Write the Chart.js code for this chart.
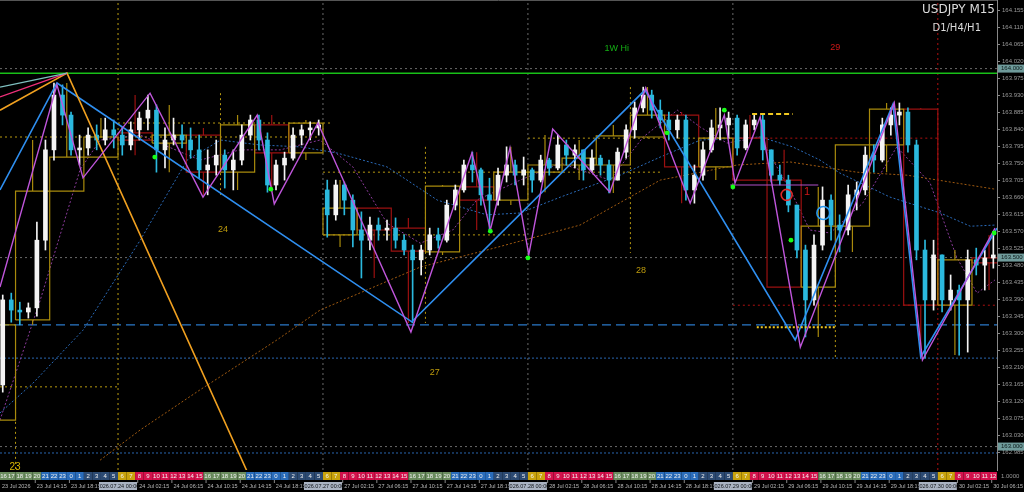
<!DOCTYPE html>
<html>
<head>
<meta charset="UTF-8">
<script src="https://cdn.jsdelivr.net/npm/chart.js"></script>
<style>
  html, body { margin: 0; padding: 0; background: #000; overflow: hidden; }
  canvas { display: block; }
</style>
</head>
<body>
<canvas id="chart" width="1024" height="492"></canvas>
<script>
// hourly candles; hour 0 = 23 Jul 00:00, weekend hours skipped (27 Jul 00:00 = 48)
const firstHour = 10;
const open = [163.163,163.388,163.361,163.356,163.367,163.546,163.785,163.930,163.877,163.785,
  163.790,163.824,163.811,163.838,163.824,163.798,163.838,163.869,163.890,163.785,
  163.811,163.824,163.811,163.785,163.732,163.745,163.771,163.732,163.758,163.824,
  163.864,163.811,163.692,163.745,163.763,163.824,163.838,163.843,163.679,163.613,
  163.692,163.652,163.573,163.546,163.586,163.573,163.578,163.546,163.520,163.494,
  163.520,163.560,163.546,163.639,163.679,163.745,163.732,163.666,163.652,163.718,
  163.745,163.718,163.732,163.705,163.758,163.737,163.798,163.771,163.785,163.732,
  163.763,163.745,163.705,163.779,163.838,163.896,163.930,163.890,163.864,163.838,
  163.864,163.679,163.718,163.785,163.843,163.851,163.869,163.790,163.851,163.864,
  163.785,163.718,163.705,163.639,163.520,163.388,163.533,163.652,163.586,163.573,
  163.666,163.679,163.771,163.758,163.851,163.877,163.885,163.798,163.520,163.388,
  163.507,163.388,163.414,163.388,163.494,163.480,163.499];
const high = [163.401,163.406,163.382,163.380,163.594,163.811,163.962,163.957,163.885,163.824,
  163.843,163.851,163.869,163.864,163.845,163.859,163.885,163.930,163.904,163.843,
  163.869,163.851,163.843,163.824,163.785,163.811,163.785,163.785,163.851,163.877,
  163.877,163.830,163.758,163.779,163.843,163.851,163.859,163.864,163.705,163.705,
  163.700,163.666,163.621,163.607,163.605,163.599,163.605,163.560,163.533,163.533,
  163.578,163.578,163.652,163.692,163.758,163.779,163.737,163.710,163.737,163.793,
  163.758,163.766,163.737,163.771,163.763,163.824,163.811,163.798,163.785,163.785,
  163.771,163.758,163.790,163.851,163.912,163.951,163.943,163.917,163.885,163.877,
  163.877,163.745,163.806,163.864,163.896,163.885,163.877,163.864,163.877,163.877,
  163.785,163.745,163.718,163.639,163.533,163.560,163.687,163.666,163.613,163.692,
  163.700,163.793,163.798,163.869,163.896,163.909,163.896,163.811,163.546,163.546,
  163.507,163.454,163.427,163.520,163.525,163.520,163.560];
const low = [163.144,163.329,163.322,163.340,163.345,163.520,163.758,163.851,163.771,163.745,
  163.771,163.785,163.798,163.790,163.771,163.785,163.811,163.838,163.726,163.737,
  163.798,163.790,163.763,163.710,163.666,163.718,163.684,163.679,163.745,163.811,
  163.785,163.673,163.679,163.705,163.758,163.798,163.811,163.824,163.554,163.599,
  163.613,163.528,163.446,163.520,163.546,163.546,163.525,163.507,163.327,163.454,
  163.507,163.525,163.541,163.626,163.673,163.700,163.639,163.573,163.639,163.700,
  163.692,163.692,163.673,163.700,163.718,163.732,163.745,163.737,163.705,163.726,
  163.718,163.671,163.705,163.763,163.816,163.885,163.869,163.843,163.811,163.816,
  163.652,163.644,163.705,163.779,163.811,163.816,163.771,163.785,163.838,163.758,
  163.700,163.692,163.621,163.499,163.290,163.374,163.520,163.546,163.515,163.560,
  163.626,163.666,163.726,163.753,163.824,163.851,163.779,163.494,163.234,163.361,
  163.356,163.361,163.242,163.250,163.454,163.414,163.472];
const close = [163.388,163.361,163.356,163.367,163.546,163.785,163.930,163.877,163.785,163.790,
  163.824,163.811,163.838,163.824,163.798,163.838,163.869,163.890,163.785,163.811,
  163.824,163.811,163.785,163.732,163.745,163.771,163.732,163.758,163.824,163.864,
  163.811,163.692,163.745,163.763,163.824,163.838,163.843,163.851,163.613,163.692,
  163.652,163.573,163.546,163.586,163.573,163.578,163.546,163.520,163.494,163.520,
  163.560,163.546,163.639,163.679,163.745,163.732,163.666,163.652,163.718,163.745,
  163.718,163.732,163.705,163.758,163.737,163.798,163.771,163.785,163.732,163.763,
  163.745,163.705,163.779,163.838,163.896,163.930,163.890,163.864,163.838,163.864,
  163.679,163.718,163.785,163.843,163.851,163.869,163.790,163.851,163.864,163.785,
  163.718,163.705,163.639,163.520,163.388,163.533,163.652,163.586,163.573,163.666,
  163.679,163.771,163.758,163.851,163.877,163.885,163.798,163.520,163.388,163.507,
  163.388,163.414,163.388,163.494,163.480,163.499,163.507];

// H4 bodies (start hour, open, close)
const h4Start = [8,12,16,20,24,28,32,36,40,44,48,52,56,60,64,68,72,76,80,84,88,92,96,100,104,108,112,116,120,124];
const h4Open = [163.070,163.335,163.676,163.766,163.830,163.803,163.824,163.726,163.851,163.777,
  163.560,163.631,163.578,163.515,163.687,163.652,163.726,163.745,163.745,163.819,
  163.877,163.740,163.816,163.705,163.422,163.583,163.798,163.893,163.374,163.499];
const h4Close = [163.322,163.676,163.766,163.819,163.811,163.824,163.726,163.851,163.777,163.856,
  163.631,163.573,163.517,163.689,163.652,163.726,163.745,163.763,163.822,163.877,
  163.740,163.816,163.705,163.422,163.583,163.798,163.893,163.374,163.494,163.486];

// zigzags and moving averages: [hour, price]
const blueZigzag = [[10.18,163.679],[16.85,163.962],[58.4,163.330],[85.7,163.943],[103.3,163.282],[114.75,163.906],[118,163.237],[126.93,163.578]];
const magentaZigzag = [[10.18,163.422],[16.85,163.957],[19.9,163.711],[27.75,163.935],[33.95,163.660],[40.3,163.877],[42.3,163.642],[47.4,163.856],
  [58.3,163.303],[65.45,163.777],[67.6,163.573],[69.9,163.790],[72.1,163.507],[74.9,163.840],[81.6,163.673],[85.8,163.949],[91,163.644],
  [95,163.877],[96.25,163.697],[99.2,163.872],[103.9,163.263],[114.9,163.909],[118.2,163.229],[126.7,163.578]];
const maBlue = [[10.18,163.089],[14.05,163.168],[19.9,163.308],[26.6,163.546],[32.1,163.758],[36,163.811],[40.6,163.798],[45.3,163.793],
  [49.6,163.777],[55.5,163.740],[61.4,163.652],[67.2,163.613],[71.1,163.618],[75.8,163.660],[82.8,163.718],[87.5,163.766],[92.2,163.811],
  [99.2,163.819],[103,163.793],[106.2,163.758],[108.5,163.724],[114.4,163.660],[120.3,163.618],[123.8,163.583],[126.7,163.586]];
const maBrown = [[21.9,162.964],[26.6,163.044],[33.6,163.150],[42.6,163.282],[47.65,163.361],[59.4,163.475],[67.2,163.520],[78.1,163.586],
  [87.5,163.705],[96.5,163.745],[102.7,163.753],[110.5,163.726],[116.4,163.718],[126.7,163.681]];
const maPurple = [[10.18,163.070],[14.9,163.388],[19.55,163.732],[21.9,163.811],[26.6,163.824],[33.6,163.758],[38.3,163.785],[43,163.785],
  [47.65,163.811],[51.5,163.740],[55.5,163.591],[59.4,163.538],[63.2,163.573],[66,163.652],[71.1,163.705],[75.8,163.750],[81.6,163.705],
  [85.5,163.819],[89.5,163.890],[92.2,163.845],[95.3,163.803],[99.2,163.819],[103,163.666],[105,163.573],[107.4,163.565],[111.2,163.644],
  [115.2,163.793],[119.1,163.697],[122.2,163.501],[124.6,163.406],[126.7,163.441]];

// fan from the weekly high and the long orange line
const fanTop = [18.03, 163.988];
const fanStarts = [163.951, 163.925, 163.890];
const orangeEnd = [39.5, 162.915];

// levels
const weekHigh = 163.988;
const roundLevels = [164.000, 163.500, 163.000];
const blueDashLevel = 163.322;
const blueDotLevels = [163.234, 162.983];
const yellowPivots = [[10.18,47.65,163.819],[24,49,163.856],[48,87.5,163.726],[72,95.7,163.816],[10.18,24,163.158],[48,72,163.560]];
const redPivots = [[95.7,120,163.816],[96,126.93,163.374]];
const dayLines = [48, 72, 96];
const noonLines = [[12,163.158,162.90],[36,163.935,163.666],[60,163.793,163.327],[84,163.951,163.512],[108,163.467,163.237]];
const yellowDash = [98.25, 103, 163.880];
const yellowDotThick = [98.8, 108.1, 163.316];
const magentaLevel = [95.7, 106, 163.692];
const greenDots = [[28.3,163.766],[41.9,163.681],[67.6,163.570],[72,163.499],[88.3,163.830],[95,163.890],[96,163.687],[102.8,163.546],[126.6,163.565]];
const redCircle = [102.3, 163.666];
const blueCircle = [106.6, 163.618];

// text marks
const countLabels = [['24',36.3,163.573],['28',85.25,163.467],['27',61.1,163.195],['23',11.94,162.946]];
const weekHiLabel = ['1W Hi', 82.4, 164.052];
const redLabels = [['29',108,164.057],['1',104.7,163.673]];

// axis
const priceTicks = [];
for (let k = 0; k < 27; k++) priceTicks.push(+(162.985 + 0.045 * k).toFixed(3));
const dayNames = ['23 Jul','24 Jul','27 Jul','28 Jul','29 Jul','30 Jul'];
const dayStamps = ['2026.07.23 00:00','2026.07.24 00:00','2026.07.27 00:00','2026.07.28 00:00','2026.07.29 00:00','2026.07.30 00:00'];
const dayStarts = [0, 24, 48, 72, 96, 120];
const labelOffsets = [2.25, 6.25, 10.25, 14.25, 18.25];
const labelTimes = ['02:15','06:15','10:15','14:15','18:15'];

const xMin = 10.18, xMax = 126.93, yMin = 162.938, yMax = 164.1815;

const pts = arr => arr.map(p => ({x: p[0], y: p[1]}));
function line(data, color, width, dash, order) {
  return {type: 'line', data, borderColor: color, borderWidth: width, borderDash: dash || [],
    pointRadius: 0, fill: false, tension: 0, spanGaps: false, order};
}
function hseg(a, b, p) { return [{x: a, y: p}, {x: b, y: p}]; }
function joined(segs) {
  const out = [];
  segs.forEach(s => { out.push(...s, {x: s[s.length - 1].x, y: null}); });
  return out;
}

const candleX = open.map((o, i) => firstHour + 0.5 + i);
const isUp = i => close[i] >= open[i];
const candleColor = ctx => isUp(ctx.dataIndex) ? '#f4f4f4' : '#2bb9de';

// H4 boxes and wicks
const yBoxes = [], rBoxes = [], yWicks = [], rWicks = [];
h4Start.forEach((s, k) => {
  const o = h4Open[k], c = h4Close[k];
  const top = Math.max(o, c), bot = Math.min(o, c);
  let hi = top, lo = bot;
  for (let i = s - firstHour; i < s - firstHour + 4; i++) {
    if (i < 0 || i >= open.length) continue;
    hi = Math.max(hi, high[i]); lo = Math.min(lo, low[i]);
  }
  const rect = [{x: s, y: o}, {x: s + 4, y: o}, {x: s + 4, y: c}, {x: s, y: c}, {x: s, y: o}];
  const wick = [{x: s + 2, y: hi}, {x: s + 2, y: top}, {x: s + 2, y: null}, {x: s + 2, y: bot}, {x: s + 2, y: lo}];
  if (c >= o) { yBoxes.push(rect); yWicks.push(wick); } else { rBoxes.push(rect); rWicks.push(wick); }
});

const vseg = (h, a, b) => [{x: h, y: a}, {x: h, y: b}];

const datasets = [
  // background levels
  line(joined(roundLevels.map(p => hseg(xMin, xMax, p))), '#6a6a6a', 1, [2, 3], 20),
  line(joined(dayLines.map(h => vseg(h, yMin, yMax))), '#6a6a6a', 1, [2, 3], 20),
  line(vseg(24, yMin, yMax), '#b89a10', 1, [2, 3], 20),
  line(vseg(120, yMin, yMax), '#b01010', 1, [2, 3], 20),
  line(joined(noonLines.map(v => vseg(v[0], v[1], v[2]))), '#b89a10', 1, [2, 3], 20),
  line(joined(yellowPivots.map(v => hseg(v[0], v[1], v[2]))), '#b89a10', 1, [2, 3], 20),
  line(joined(redPivots.map(v => hseg(v[0], v[1], v[2]))), '#b01010', 1, [2, 3], 20),
  line(hseg(xMin, xMax, blueDashLevel), '#2a78c8', 1.2, [9, 5], 20),
  line(joined(blueDotLevels.map(p => hseg(xMin, xMax, p))), '#2a66b0', 1, [2, 2], 20),
  line(hseg(xMin, xMax, weekHigh), '#18c018', 1.5, [], 19),
  // moving averages
  line(pts(maBlue), '#2a6ab8', 1, [2, 2], 18),
  line(pts(maBrown), '#a05a10', 1, [2, 2], 18),
  line(pts(maPurple), '#8a3a9a', 1, [2, 2], 18),
  // H4 boxes
  line(joined(yBoxes), '#a88a0c', 1.2, [], 15),
  line(joined(yWicks), '#a88a0c', 1.2, [], 15),
  line(joined(rBoxes), '#9a1010', 1.2, [], 15),
  line(joined(rWicks), '#9a1010', 1.2, [], 15),
  // candles
  {type: 'bar', data: candleX.map((x, i) => ({x, y: [low[i], high[i]]})), backgroundColor: candleColor,
    barThickness: 1, grouped: false, order: 10},
  {type: 'bar', data: candleX.map((x, i) => ({x, y: [open[i], close[i]]})), backgroundColor: candleColor,
    barThickness: 4, minBarLength: 1, grouped: false, order: 9},
  // zigzags and fan
  line(pts(blueZigzag), '#2f8ff0', 1.6, [], 4),
  line(pts(magentaZigzag), '#c056dc', 1.4, [], 3),
  line([{x: xMin, y: fanStarts[0]}, {x: fanTop[0], y: fanTop[1]}], '#7fc0c0', 1.4, [], 3),
  line([{x: xMin, y: fanStarts[1]}, {x: fanTop[0], y: fanTop[1]}], '#f0307a', 1.4, [], 3),
  line([{x: xMin, y: fanStarts[2]}, {x: fanTop[0], y: fanTop[1]}, {x: orangeEnd[0], y: orangeEnd[1]}], '#f0a020', 1.6, [], 3),
  line(hseg(yellowDash[0], yellowDash[1], yellowDash[2]), '#f0c820', 2, [5, 3], 3),
  line(hseg(yellowDotThick[0], yellowDotThick[1], yellowDotThick[2]), '#f0c820', 2, [2, 2], 3),
  line(hseg(magentaLevel[0], magentaLevel[1], magentaLevel[2]), '#b050c8', 1.2, [], 3),
  // markers
  {type: 'line', showLine: false, data: pts(greenDots), pointRadius: 2.4, pointBackgroundColor: '#18ff18',
    pointBorderWidth: 0, order: 1},
  {type: 'line', showLine: false, data: [{x: redCircle[0], y: redCircle[1]}], pointRadius: 5.5,
    pointBackgroundColor: 'rgba(0,0,0,0)', pointBorderColor: '#e02828', pointBorderWidth: 1.6, order: 1},
  {type: 'line', showLine: false, data: [{x: blueCircle[0], y: blueCircle[1]}], pointRadius: 6.5,
    pointBackgroundColor: 'rgba(0,0,0,0)', pointBorderColor: '#2a9af0', pointBorderWidth: 1.6, order: 1}
];

function sessionColor(hr) {
  if (hr === 6 || hr === 7) return '#c9a20c';
  if (hr >= 8 && hr <= 15) return '#d3124c';
  if (hr >= 16 && hr <= 20) return '#6a8c5e';
  if (hr >= 2 && hr <= 5) return '#2c4a72';
  return '#2a6cba';
}

const small = '"Liberation Sans", Arial, sans-serif';

const decorations = {
  id: 'decorations',
  afterDraw(chart) {
    const ctx = chart.ctx, area = chart.chartArea;
    const xs = chart.scales.x, ys = chart.scales.y;
    ctx.save();
    // top frame line
    ctx.strokeStyle = '#555'; ctx.lineWidth = 1;
    ctx.beginPath(); ctx.moveTo(0, 0.5); ctx.lineTo(area.right, 0.5); ctx.stroke();

    // text marks in the plot
    ctx.textAlign = 'center'; ctx.textBaseline = 'middle';
    countLabels.forEach(l => {
      ctx.fillStyle = l[0] === '23' ? '#d8b400' : '#bf9c0c';
      ctx.font = (l[0] === '23' ? '10px ' : '9px ') + small;
      ctx.fillText(l[0], xs.getPixelForValue(l[1]), ys.getPixelForValue(l[2]));
    });
    ctx.font = '9px ' + small;
    ctx.fillStyle = '#14b014';
    ctx.fillText(weekHiLabel[0], xs.getPixelForValue(weekHiLabel[1]), ys.getPixelForValue(weekHiLabel[2]));
    ctx.fillStyle = '#d01818';
    redLabels.forEach(l => {
      ctx.font = (l[0] === '1' ? '11px ' : '9px ') + small;
      ctx.fillText(l[0], xs.getPixelForValue(l[1]), ys.getPixelForValue(l[2]));
    });

    // symbol caption
    ctx.textAlign = 'right';
    ctx.fillStyle = '#dcdcdc';
    ctx.font = '12px "DejaVu Sans"';
    ctx.fillText('USDJPY M15', area.right - 2, 10);
    ctx.font = '10px "DejaVu Sans"';
    ctx.fillText('D1/H4/H1', area.right - 16, 28);

    // highlighted price labels
    ctx.font = '6px ' + small; ctx.textAlign = 'left';
    roundLevels.forEach(p => {
      const y = ys.getPixelForValue(p);
      ctx.fillStyle = '#6f9b9b';
      ctx.fillRect(area.right + 1, y - 4, 26, 8);
      ctx.fillStyle = '#0c1a1a';
      ctx.fillText(p.toFixed(3), area.right + 4, y);
    });

    // hour strip
    const top = area.bottom + 2, h = 8;
    ctx.font = '6px ' + small; ctx.textAlign = 'center';
    for (let hr = Math.floor(xMin); hr < xMax; hr++) {
      let a = xs.getPixelForValue(hr), b = xs.getPixelForValue(hr + 1);
      a = Math.max(a, area.left); b = Math.min(b, area.right);
      if (b <= a) continue;
      const local = ((hr - 18) % 24 + 24) % 24;
      ctx.fillStyle = sessionColor(local);
      ctx.fillRect(a, top, b - a, h);
      ctx.fillStyle = '#f0f0f0';
      ctx.fillText(String(local), (a + b) / 2, top + h / 2 + 0.5);
    }
    ctx.fillStyle = '#999'; ctx.textAlign = 'left';
    ctx.fillText('1.0000', area.right + 4, top + h / 2);

    // date labels
    const ly = top + h + 6;
    ctx.font = '5.5px ' + small;
    ctx.fillStyle = '#b8b8b8'; ctx.textAlign = 'left';
    ctx.fillText('23 Jul 2026', 2, ly);
    dayStarts.forEach((d, k) => {
      labelOffsets.forEach((off, j) => {
        const t = d + off;
        if (t < xMin + 0.5 || t > xMax + 3) return;
        const x = xs.getPixelForValue(t);
        ctx.strokeStyle = '#888';
        ctx.beginPath(); ctx.moveTo(x + 0.5, top + h); ctx.lineTo(x + 0.5, top + h + 3); ctx.stroke();
        ctx.fillStyle = '#b8b8b8'; ctx.textAlign = 'left';
        ctx.fillText(dayNames[k] + ' ' + labelTimes[j], x + 2, ly);
      });
      if (d >= xMin) {
        const x = xs.getPixelForValue(d);
        ctx.fillStyle = '#aab3c2';
        ctx.fillRect(x - 19, ly - 4, 38, 8);
        ctx.fillStyle = '#101418'; ctx.textAlign = 'center';
        ctx.fillText(dayStamps[k], x, ly);
      }
    });
    ctx.restore();
  }
};

new Chart(document.getElementById('chart'), {
  type: 'bar',
  data: {datasets},
  options: {
    responsive: false,
    animation: false,
    layout: {autoPadding: false, padding: {top: 0, bottom: 22, left: 0, right: 0}},
    plugins: {legend: {display: false}, tooltip: {enabled: false}},
    scales: {
      x: {type: 'linear', min: xMin, max: xMax, offset: false, display: false},
      y: {
        type: 'linear', position: 'right', min: yMin, max: yMax,
        afterBuildTicks: s => { s.ticks = priceTicks.map(v => ({value: v})); },
        afterFit: s => { s.width = 27; s.paddingTop = 0; s.paddingBottom = 0; },
        ticks: {color: '#9a9a9a', font: {size: 6, family: 'Liberation Sans'}, padding: 2,
          callback: v => Number(v).toFixed(3)},
        grid: {display: true, drawOnChartArea: false, color: '#888', tickLength: 3},
        border: {color: '#888'}
      }
    }
  },
  plugins: [decorations]
});
</script>
</body>
</html>
